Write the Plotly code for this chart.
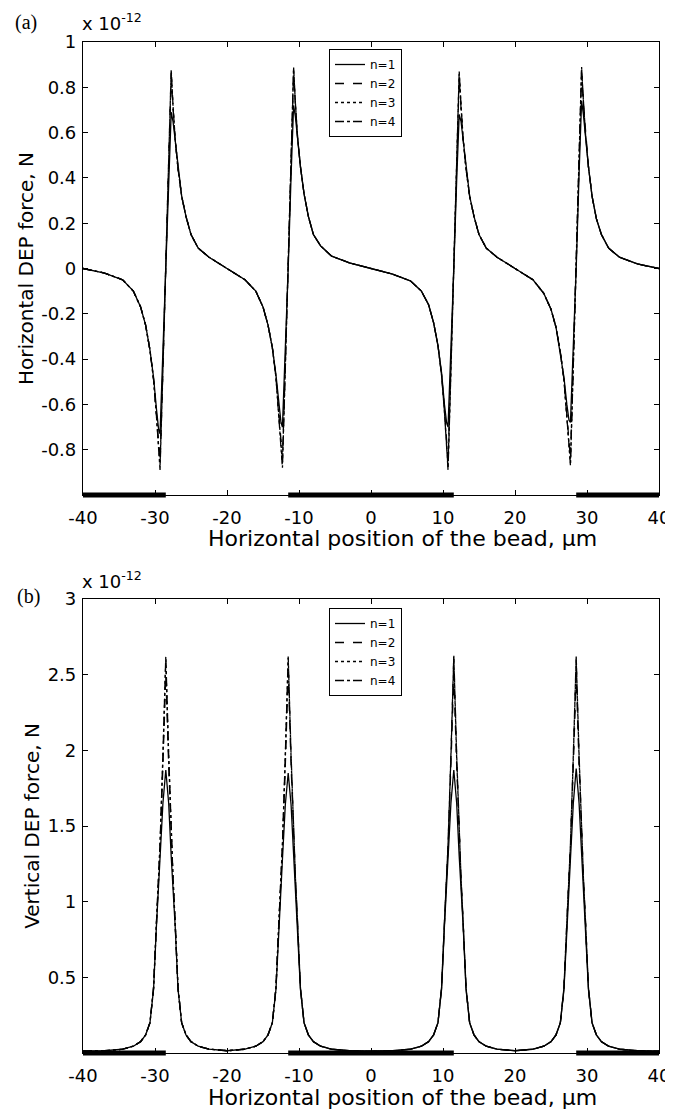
import plotly.graph_objects as go

# ---------------- data ----------------
X_POS = [-40, -37,
         -34.5, -33, -32, -31.3, -30.7, -30.2, -29.8, -29.5, -29.3, -28.9, -28.5, -28.1, -27.75, -27.5, -27.2, -26.8, -26.3, -25.7, -25.0, -24.0, -22.5,
         -20,
         -17.5, -16.0, -15.0, -14.3, -13.7, -13.2, -12.8, -12.5, -12.3, -11.9, -11.5, -11.1, -10.75, -10.5, -10.2, -9.8, -9.3, -8.7, -8.0, -7.0, -5.5,
         -3, 0, 3,
         5.5, 7.0, 8.0, 8.7, 9.3, 9.8, 10.2, 10.5, 10.7, 11.1, 11.5, 11.9, 12.25, 12.5, 12.8, 13.2, 13.7, 14.3, 15.0, 16.0, 17.5,
         20,
         22.5, 24.0, 25.0, 25.7, 26.3, 26.8, 27.2, 27.5, 27.7, 28.1, 28.5, 28.9, 29.25, 29.5, 29.8, 30.2, 30.7, 31.3, 32.0, 33.0, 34.5,
         37, 40]

# Horizontal DEP force (x 1e-12 N)
FH_N1 = [0.0, -0.02,
         -0.05, -0.10, -0.17, -0.25, -0.36, -0.48, -0.62, -0.71, -0.73, -0.38, 0.0, 0.40, 0.69, 0.65, 0.56, 0.44, 0.32, 0.23, 0.15, 0.09, 0.05,
         0.0,
         -0.05, -0.10, -0.17, -0.25, -0.35, -0.47, -0.60, -0.68, -0.70, -0.37, 0.0, 0.41, 0.72, 0.67, 0.57, 0.45, 0.33, 0.23, 0.15, 0.10, 0.055,
         0.025, 0.0, -0.025,
         -0.055, -0.10, -0.16, -0.24, -0.34, -0.46, -0.60, -0.68, -0.70, -0.37, 0.0, 0.39, 0.68, 0.65, 0.56, 0.44, 0.32, 0.23, 0.15, 0.09, 0.05,
         0.0,
         -0.05, -0.11, -0.18, -0.26, -0.37, -0.48, -0.60, -0.67, -0.68, -0.36, 0.0, 0.42, 0.74, 0.68, 0.58, 0.45, 0.32, 0.22, 0.15, 0.09, 0.05,
         0.02, 0.0]
FH_N2 = [0.0, -0.02,
         -0.05, -0.10, -0.17, -0.25, -0.36, -0.49, -0.64, -0.76, -0.85, -0.43, 0.0, 0.46, 0.85, 0.71, 0.57, 0.44, 0.32, 0.23, 0.15, 0.09, 0.05,
         0.0,
         -0.05, -0.10, -0.17, -0.25, -0.35, -0.48, -0.63, -0.75, -0.84, -0.42, 0.0, 0.46, 0.86, 0.72, 0.58, 0.45, 0.33, 0.23, 0.15, 0.10, 0.055,
         0.025, 0.0, -0.025,
         -0.055, -0.10, -0.16, -0.24, -0.34, -0.47, -0.62, -0.75, -0.85, -0.43, 0.0, 0.45, 0.84, 0.71, 0.57, 0.44, 0.32, 0.23, 0.15, 0.09, 0.05,
         0.0,
         -0.05, -0.11, -0.18, -0.26, -0.37, -0.49, -0.63, -0.75, -0.84, -0.42, 0.0, 0.46, 0.86, 0.73, 0.59, 0.45, 0.32, 0.22, 0.15, 0.09, 0.05,
         0.02, 0.0]
FH_N3 = [0.0, -0.02,
         -0.05, -0.10, -0.17, -0.25, -0.36, -0.49, -0.65, -0.77, -0.87, -0.44, 0.0, 0.47, 0.87, 0.72, 0.57, 0.44, 0.32, 0.23, 0.15, 0.09, 0.05,
         0.0,
         -0.05, -0.10, -0.17, -0.25, -0.35, -0.48, -0.64, -0.77, -0.86, -0.43, 0.0, 0.47, 0.88, 0.73, 0.58, 0.45, 0.33, 0.23, 0.15, 0.10, 0.055,
         0.025, 0.0, -0.025,
         -0.055, -0.10, -0.16, -0.24, -0.34, -0.47, -0.63, -0.77, -0.88, -0.44, 0.0, 0.46, 0.86, 0.72, 0.57, 0.44, 0.32, 0.23, 0.15, 0.09, 0.05,
         0.0,
         -0.05, -0.11, -0.18, -0.26, -0.37, -0.49, -0.64, -0.77, -0.86, -0.43, 0.0, 0.47, 0.88, 0.74, 0.59, 0.45, 0.32, 0.22, 0.15, 0.09, 0.05,
         0.02, 0.0]
FH_N4 = [0.0, -0.02,
         -0.05, -0.10, -0.17, -0.25, -0.36, -0.49, -0.65, -0.78, -0.89, -0.45, 0.0, 0.47, 0.88, 0.72, 0.57, 0.44, 0.32, 0.23, 0.15, 0.09, 0.05,
         0.0,
         -0.05, -0.10, -0.17, -0.25, -0.35, -0.48, -0.64, -0.78, -0.88, -0.44, 0.0, 0.48, 0.89, 0.73, 0.58, 0.45, 0.33, 0.23, 0.15, 0.10, 0.055,
         0.025, 0.0, -0.025,
         -0.055, -0.10, -0.16, -0.24, -0.34, -0.47, -0.63, -0.78, -0.89, -0.45, 0.0, 0.47, 0.87, 0.72, 0.57, 0.44, 0.32, 0.23, 0.15, 0.09, 0.05,
         0.0,
         -0.05, -0.11, -0.18, -0.26, -0.37, -0.49, -0.64, -0.78, -0.87, -0.44, 0.0, 0.48, 0.89, 0.74, 0.59, 0.45, 0.32, 0.22, 0.15, 0.09, 0.05,
         0.02, 0.0]

# Vertical DEP force (x 1e-12 N)
FV_N1 = [0.012, 0.015,
         0.025, 0.045, 0.075, 0.12, 0.20, 0.42, 0.84, 1.10, 1.28, 1.65, 1.87, 1.65, 1.30, 1.10, 0.84, 0.42, 0.20, 0.12, 0.075, 0.045, 0.025,
         0.015,
         0.025, 0.045, 0.075, 0.12, 0.20, 0.42, 0.84, 1.10, 1.28, 1.64, 1.85, 1.64, 1.30, 1.10, 0.84, 0.42, 0.20, 0.12, 0.075, 0.045, 0.025,
         0.015, 0.012, 0.015,
         0.025, 0.045, 0.075, 0.12, 0.20, 0.42, 0.84, 1.10, 1.28, 1.65, 1.87, 1.65, 1.30, 1.10, 0.84, 0.42, 0.20, 0.12, 0.075, 0.045, 0.025,
         0.015,
         0.025, 0.045, 0.075, 0.12, 0.20, 0.42, 0.84, 1.10, 1.28, 1.65, 1.88, 1.65, 1.30, 1.10, 0.84, 0.42, 0.20, 0.12, 0.075, 0.045, 0.025,
         0.015, 0.012]
FV_N2 = [0.012, 0.015,
         0.025, 0.045, 0.075, 0.12, 0.20, 0.43, 0.86, 1.15, 1.35, 1.90, 2.50, 1.90, 1.40, 1.15, 0.86, 0.43, 0.20, 0.12, 0.075, 0.045, 0.025,
         0.015,
         0.025, 0.045, 0.075, 0.12, 0.20, 0.43, 0.86, 1.15, 1.35, 1.90, 2.52, 1.90, 1.40, 1.15, 0.86, 0.43, 0.20, 0.12, 0.075, 0.045, 0.025,
         0.015, 0.012, 0.015,
         0.025, 0.045, 0.075, 0.12, 0.20, 0.43, 0.86, 1.15, 1.35, 1.90, 2.50, 1.90, 1.40, 1.15, 0.86, 0.43, 0.20, 0.12, 0.075, 0.045, 0.025,
         0.015,
         0.025, 0.045, 0.075, 0.12, 0.20, 0.43, 0.86, 1.15, 1.35, 1.90, 2.50, 1.90, 1.40, 1.15, 0.86, 0.43, 0.20, 0.12, 0.075, 0.045, 0.025,
         0.015, 0.012]
FV_N3 = [0.012, 0.015,
         0.025, 0.045, 0.075, 0.12, 0.20, 0.43, 0.86, 1.16, 1.37, 1.95, 2.60, 1.95, 1.42, 1.16, 0.86, 0.43, 0.20, 0.12, 0.075, 0.045, 0.025,
         0.015,
         0.025, 0.045, 0.075, 0.12, 0.20, 0.43, 0.86, 1.16, 1.37, 1.95, 2.61, 1.95, 1.42, 1.16, 0.86, 0.43, 0.20, 0.12, 0.075, 0.045, 0.025,
         0.015, 0.012, 0.015,
         0.025, 0.045, 0.075, 0.12, 0.20, 0.43, 0.86, 1.16, 1.37, 1.95, 2.61, 1.95, 1.42, 1.16, 0.86, 0.43, 0.20, 0.12, 0.075, 0.045, 0.025,
         0.015,
         0.025, 0.045, 0.075, 0.12, 0.20, 0.43, 0.86, 1.16, 1.37, 1.95, 2.60, 1.95, 1.42, 1.16, 0.86, 0.43, 0.20, 0.12, 0.075, 0.045, 0.025,
         0.015, 0.012]
FV_N4 = [0.012, 0.015,
         0.025, 0.045, 0.075, 0.12, 0.20, 0.43, 0.86, 1.16, 1.38, 1.97, 2.62, 1.97, 1.43, 1.16, 0.86, 0.43, 0.20, 0.12, 0.075, 0.045, 0.025,
         0.015,
         0.025, 0.045, 0.075, 0.12, 0.20, 0.43, 0.86, 1.16, 1.38, 1.97, 2.62, 1.97, 1.43, 1.16, 0.86, 0.43, 0.20, 0.12, 0.075, 0.045, 0.025,
         0.015, 0.012, 0.015,
         0.025, 0.045, 0.075, 0.12, 0.20, 0.43, 0.86, 1.16, 1.38, 1.97, 2.63, 1.97, 1.43, 1.16, 0.86, 0.43, 0.20, 0.12, 0.075, 0.045, 0.025,
         0.015,
         0.025, 0.045, 0.075, 0.12, 0.20, 0.43, 0.86, 1.16, 1.38, 1.97, 2.62, 1.97, 1.43, 1.16, 0.86, 0.43, 0.20, 0.12, 0.075, 0.045, 0.025,
         0.015, 0.012]

SERIES_NAMES = ["n=1", "n=2", "n=3", "n=4"]
ELECTRODES = [(-40, -28.5), (-11.5, 11.5), (28.5, 40)]
X_TICKS = [-40, -30, -20, -10, 0, 10, 20, 30, 40]
X_LABELS = ["-40", "-30", "-20", "-10", "0", "10", "20", "30", "40"]
YA_TICKS = [-0.8, -0.6, -0.4, -0.2, 0, 0.2, 0.4, 0.6, 0.8, 1]
YA_LABELS = ["-0.8", "-0.6", "-0.4", "-0.2", "0", "0.2", "0.4", "0.6", "0.8", "1"]
YB_TICKS = [0.5, 1, 1.5, 2, 2.5, 3]
YB_LABELS = ["0.5", "1", "1.5", "2", "2.5", "3"]
X_TITLE = "Horizontal position of the bead, \u03bcm"

# ---------------- figure ----------------
# The page body has an 8 px margin, so the figure is placed at (8, 8) on screen.
OFF = 8
W, H = 665, 1103
FONT = "DejaVu Sans"
DASHES = ["solid", "dash", "dot", "dashdot"]


def px(sx):
    return (sx - OFF) / W


def py(sy):
    return 1 - (sy - OFF) / H


fig = go.Figure()
for name, y, dash in zip(SERIES_NAMES, [FH_N1, FH_N2, FH_N3, FH_N4], DASHES):
    fig.add_trace(go.Scatter(x=X_POS, y=y, mode="lines", name=name,
                             line=dict(color="black", width=1.3, dash=dash),
                             xaxis="x", yaxis="y", legend="legend"))
for name, y, dash in zip(SERIES_NAMES, [FV_N1, FV_N2, FV_N3, FV_N4], DASHES):
    fig.add_trace(go.Scatter(x=X_POS, y=y, mode="lines", name=name,
                             line=dict(color="black", width=1.3, dash=dash),
                             xaxis="x2", yaxis="y2", legend="legend2"))

# electrodes (thick bars along the bottom axis)
for xr, yr in [("x", "y domain"), ("x2", "y2 domain")]:
    for x0, x1 in ELECTRODES:
        fig.add_shape(type="line", xref=xr, yref=yr, x0=x0, x1=x1, y0=0, y1=0,
                      line=dict(color="black", width=5), layer="above")

xd = [px(83), px(659)]
ya_dom = [py(495), py(42)]
yb_dom = [py(1053), py(599)]

axis_common = dict(showline=True, linecolor="black", linewidth=1.2, mirror="ticks",
                   ticks="inside", ticklen=5, tickcolor="black", showgrid=False,
                   zeroline=False, automargin=False,
                   tickfont=dict(family=FONT, size=18, color="black"))

fig.update_layout(
    width=W, height=H,
    margin=dict(l=0, r=0, t=0, b=0, autoexpand=False),
    paper_bgcolor="white", plot_bgcolor="white",
    xaxis=dict(domain=xd, anchor="y", range=[-40, 40], tickvals=X_TICKS,
               ticktext=X_LABELS, ticklabelstandoff=6, **axis_common),
    yaxis=dict(domain=ya_dom, anchor="x", range=[-1, 1], tickvals=YA_TICKS,
               ticktext=YA_LABELS, ticklabelstandoff=2,
               title=dict(text="Horizontal DEP force, N",
                          font=dict(family=FONT, size=20, color="black"), standoff=2),
               **axis_common),
    xaxis2=dict(domain=xd, anchor="y2", range=[-40, 40], tickvals=X_TICKS,
                ticktext=X_LABELS, ticklabelstandoff=6, **axis_common),
    yaxis2=dict(domain=yb_dom, anchor="x2", range=[0, 3], tickvals=YB_TICKS,
                ticktext=YB_LABELS, ticklabelstandoff=2,
                title=dict(text="Vertical DEP force, N",
                           font=dict(family=FONT, size=20, color="black"), standoff=2),
                **axis_common),
    legend=dict(x=px(329), y=py(49), xanchor="left", yanchor="top",
                bgcolor="white", bordercolor="black", borderwidth=1,
                font=dict(family=FONT, size=12, color="black"),
                tracegroupgap=0, itemwidth=30),
    legend2=dict(x=px(329), y=py(608), xanchor="left", yanchor="top",
                 bgcolor="white", bordercolor="black", borderwidth=1,
                 font=dict(family=FONT, size=12, color="black"),
                 tracegroupgap=0, itemwidth=30),
    showlegend=True,
)

# x-axis titles (placed as in the original, slightly right of centre)
for ty in (538, 1097):
    fig.add_annotation(text=X_TITLE, x=px(402), y=py(ty), xref="paper", yref="paper",
                       xanchor="center", yanchor="middle", showarrow=False,
                       font=dict(family=FONT, size=22, color="black"))

# panel labels and exponent labels
fig.add_annotation(text="(a)", x=px(13), y=py(9), xref="paper", yref="paper",
                   xanchor="left", yanchor="top", showarrow=False,
                   font=dict(family="Liberation Serif", size=20, color="black"))
fig.add_annotation(text="(b)", x=px(15), y=py(583), xref="paper", yref="paper",
                   xanchor="left", yanchor="top", showarrow=False,
                   font=dict(family="Liberation Serif", size=20, color="black"))
for ytop in (8, 566):
    fig.add_annotation(text="x 10<sup>-12</sup>", x=px(80), y=py(ytop),
                       xref="paper", yref="paper", xanchor="left", yanchor="top",
                       showarrow=False, font=dict(family=FONT, size=18, color="black"))

fig.write_html("out.html")
